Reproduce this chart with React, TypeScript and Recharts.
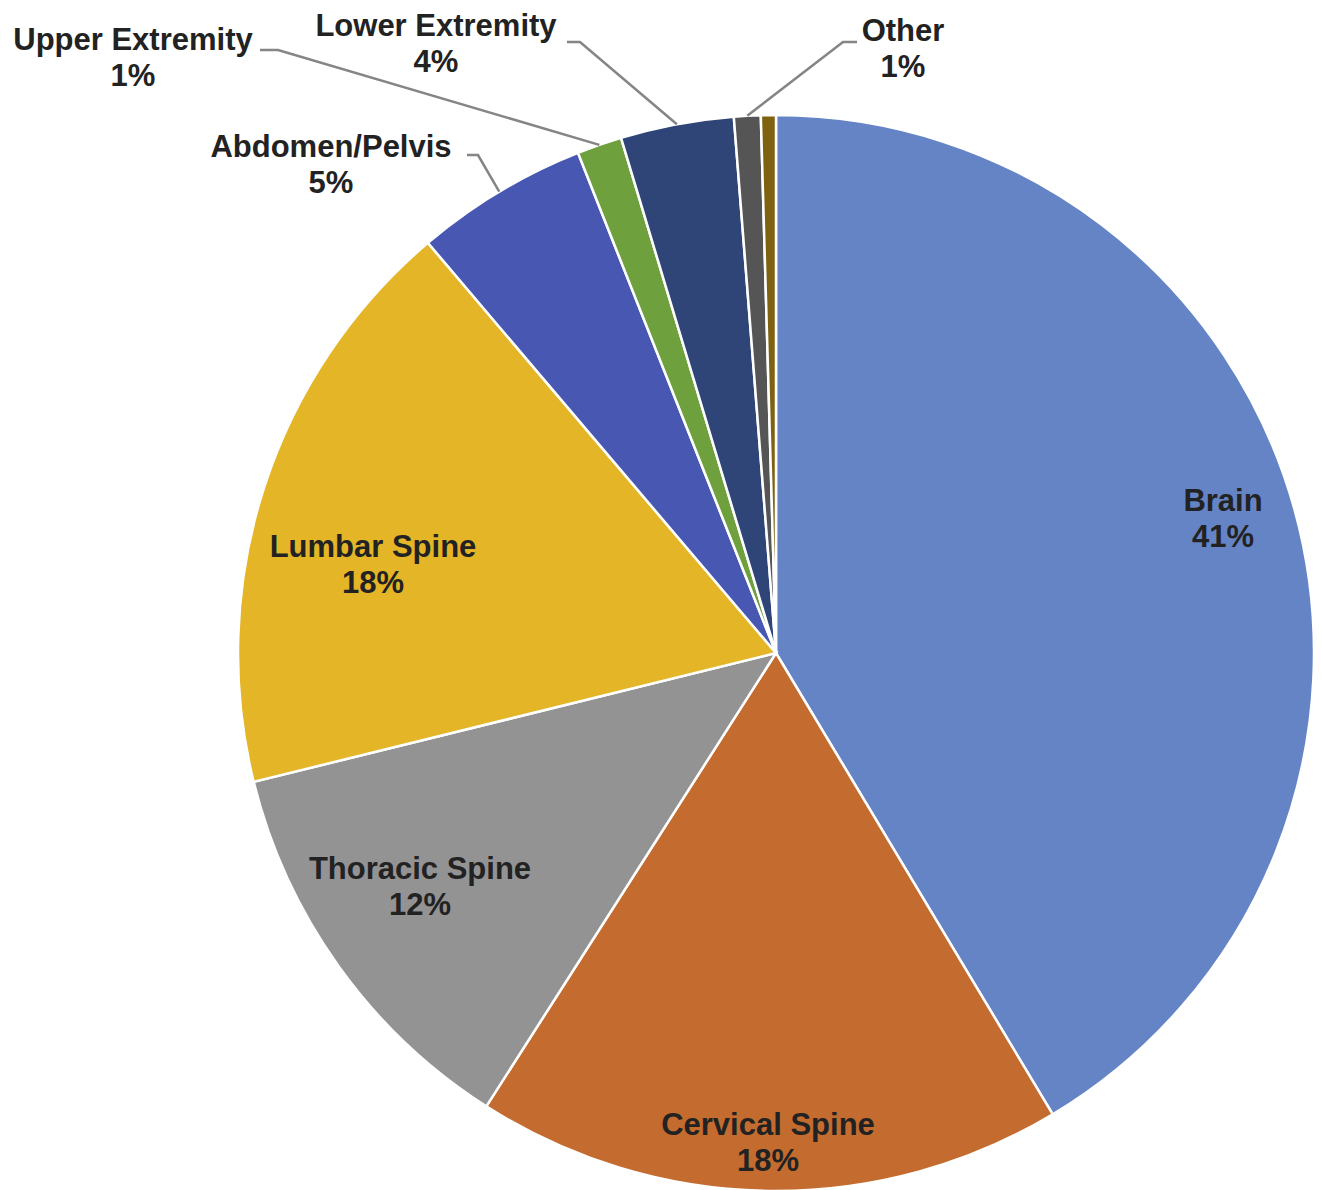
import React from "react";
import { PieChart, Pie, Cell } from "recharts";

// ---- data ----
const categories = [
  "Brain",
  "Cervical Spine",
  "Thoracic Spine",
  "Lumbar Spine",
  "Abdomen/Pelvis",
  "Upper Extremity",
  "Lower Extremity",
  "Other",
  "Unlabeled",
];
const shares = [41.4, 17.65, 12.1, 17.65, 5.2, 1.35, 3.4, 0.8, 0.45];
const percentLabels = ["41%", "18%", "12%", "18%", "5%", "1%", "4%", "1%", ""];

// ---- styles ----
const colors = [
  "#6584C6",
  "#C46C30",
  "#939393",
  "#E3B527",
  "#4858B2",
  "#6EA03E",
  "#2F4577",
  "#555555",
  "#7F6210",
];

const CX = 776;
const CY = 653;
const R = 538;

// label layout: text centre offset from pie centre, and optional leader elbow (page coords)
const labelLayout: { dx: number; dy: number; line?: [number, number, number, number] }[] = [
  { dx: 447, dy: -135 },
  { dx: -8, dy: 489 },
  { dx: -356, dy: 233 },
  { dx: -403, dy: -89 },
  { dx: -445, dy: -489, line: [467, 155, 478, 155] },
  { dx: -643, dy: -596, line: [260, 50, 278, 50] },
  { dx: -340, dy: -610, line: [567, 42, 580, 42] },
  { dx: 127, dy: -605, line: [857, 42, 843, 42] },
  { dx: 0, dy: 0 },
];

const data = categories.map((name, i) => ({ name, value: shares[i] }));

const RAD = Math.PI / 180;

const renderLabel = (props: any) => {
  const { index, cx, cy, midAngle, outerRadius } = props;
  if (!percentLabels[index]) return <g key={`l${index}`} />;
  const lay = labelLayout[index];
  const tx = cx + lay.dx;
  const ty = cy + lay.dy;
  const elems: React.ReactNode[] = [];
  if (lay.line) {
    const ex = cx + outerRadius * Math.cos(-midAngle * RAD);
    const ey = cy + outerRadius * Math.sin(-midAngle * RAD);
    const [x1, y1, x2, y2] = lay.line;
    elems.push(
      <polyline
        key="ln"
        points={`${x1},${y1} ${x2},${y2} ${ex},${ey}`}
        fill="none"
        stroke="#858585"
        strokeWidth={2.5}
      />
    );
  }
  return (
    <g key={`l${index}`}>
      {elems}
      <text
        x={tx}
        y={ty - 18}
        textAnchor="middle"
        dominantBaseline="central"
        fontFamily="'Liberation Sans', Arial, sans-serif"
        fontWeight="bold"
        fontSize={31}
        fill="#222222"
      >
        {categories[index]}
      </text>
      <text
        x={tx}
        y={ty + 18}
        textAnchor="middle"
        dominantBaseline="central"
        fontFamily="'Liberation Sans', Arial, sans-serif"
        fontWeight="bold"
        fontSize={31}
        fill="#222222"
      >
        {percentLabels[index]}
      </text>
    </g>
  );
};

export default function App() {
  return (
    <div style={{ position: "absolute", left: 0, top: 0, width: 1322, height: 1190, background: "#fff" }}>
      <PieChart width={1322} height={1190} margin={{ top: 0, right: 0, bottom: 0, left: 0 }}>
        <Pie
          data={data}
          dataKey="value"
          nameKey="name"
          cx={CX}
          cy={CY}
          outerRadius={R}
          innerRadius={0}
          startAngle={90}
          endAngle={-270}
          stroke="#ffffff"
          strokeWidth={2.5}
          label={renderLabel}
          labelLine={false}
          isAnimationActive={false}
        >
          {data.map((d, i) => (
            <Cell key={d.name} fill={colors[i]} />
          ))}
        </Pie>
      </PieChart>
    </div>
  );
}
